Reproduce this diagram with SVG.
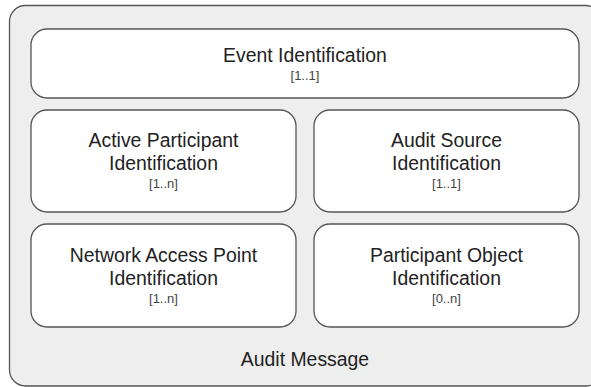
<svg xmlns="http://www.w3.org/2000/svg" width="591" height="387" viewBox="0 0 591 387">
<style>
.box{fill:#ffffff;stroke:#555555;stroke-width:1.3}
.outer{fill:#eeeeee;stroke:#555555;stroke-width:1.3}
.t{font-family:"Liberation Sans",Arial,sans-serif;font-size:19.4px;fill:#222222;text-anchor:middle}
.s{font-family:"Liberation Sans",Arial,sans-serif;font-size:13px;fill:#444444;text-anchor:middle}
</style>
<g id="audit-message">
<rect class="outer" x="9.5" y="5.5" width="592" height="380.5" rx="16" ry="16"/>
<text class="t" x="305" y="366">Audit Message</text>
</g>
<g id="event-identification">
<rect class="box" x="31" y="29" width="548" height="69" rx="16" ry="16"/>
<text class="t" x="305" y="62">Event Identification</text>
<text class="s" x="305" y="80">[1..1]</text>
</g>
<g id="active-participant">
<rect class="box" x="31" y="110" width="265" height="102" rx="16" ry="16"/>
<text class="t" x="163.5" y="147">Active Participant</text>
<text class="t" x="163.5" y="170">Identification</text>
<text class="s" x="163.5" y="188">[1..n]</text>
</g>
<g id="audit-source">
<rect class="box" x="314" y="110" width="265" height="102" rx="16" ry="16"/>
<text class="t" x="446.5" y="147">Audit Source</text>
<text class="t" x="446.5" y="170">Identification</text>
<text class="s" x="446.5" y="188">[1..1]</text>
</g>
<g id="network-access-point">
<rect class="box" x="31" y="224" width="265" height="103" rx="16" ry="16"/>
<text class="t" x="163.5" y="261.5">Network Access Point</text>
<text class="t" x="163.5" y="284.5">Identification</text>
<text class="s" x="163.5" y="302.5">[1..n]</text>
</g>
<g id="participant-object">
<rect class="box" x="314" y="224" width="265" height="103" rx="16" ry="16"/>
<text class="t" x="446.5" y="261.5">Participant Object</text>
<text class="t" x="446.5" y="284.5">Identification</text>
<text class="s" x="446.5" y="302.5">[0..n]</text>
</g>
<g id="connectors"/>
</svg>
